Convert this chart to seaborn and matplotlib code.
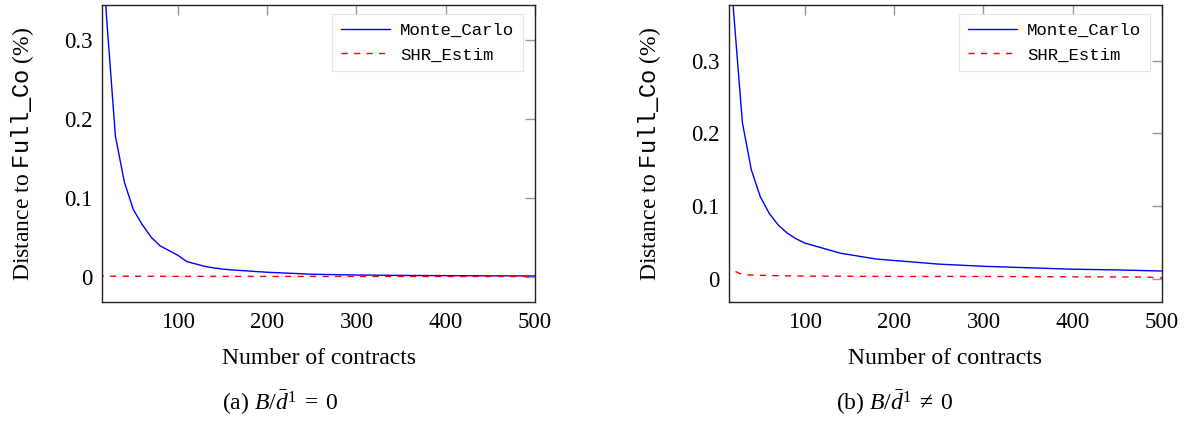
import numpy as np
import pandas as pd
import matplotlib
matplotlib.use("Agg")
import matplotlib.pyplot as plt
import seaborn as sns

sns.set_theme(style="white")
plt.rcParams["font.family"] = ["Liberation Serif", "DejaVu Serif"]
plt.rcParams["mathtext.fontset"] = "custom"
plt.rcParams["mathtext.rm"] = "Liberation Serif"
plt.rcParams["mathtext.it"] = "Liberation Serif:italic"
plt.rcParams["mathtext.tt"] = "Liberation Mono"
plt.rcParams["text.color"] = "black"
plt.rcParams["axes.labelcolor"] = "black"

# (a) B/d1 = 0
x_mc_a = [10, 20, 30, 40, 50, 60, 70, 80, 90, 100, 110, 120, 130, 140, 150, 160,
          180, 200, 250, 300, 350, 400, 450, 500]
mc_a = [0.55, 0.33, 0.178, 0.12, 0.085, 0.066, 0.05, 0.039, 0.033, 0.027, 0.019,
        0.016, 0.013, 0.011, 0.0095, 0.0085, 0.007, 0.0055, 0.003, 0.002, 0.0015,
        0.0012, 0.001, 0.0008]
x_shr_a = [10, 20, 50, 100, 200, 300, 400, 500]
shr_a = [0.0006, 0.0005, 0.0004, 0.0003, 0.0002, 0.0002, 0.0001, 0.0001]

# (b) B/d1 != 0
x_mc_b = [10, 20, 30, 40, 50, 60, 70, 80, 90, 100, 120, 140, 160, 180, 200, 250,
          300, 350, 400, 450, 500]
mc_b = [0.6, 0.37, 0.215, 0.15, 0.113, 0.09, 0.074, 0.063, 0.055, 0.049, 0.042,
        0.035, 0.031, 0.027, 0.025, 0.020, 0.017, 0.015, 0.013, 0.012, 0.0105]
x_shr_b = [10, 20, 30, 50, 100, 200, 300, 400, 480, 500]
shr_b = [0.018, 0.011, 0.0055, 0.0045, 0.0035, 0.003, 0.003, 0.0025, 0.0022, 0.001]

panels = [
    (x_mc_a, mc_a, x_shr_a, shr_a, 0.344, r"(a) $B/\bar{d}^1\;=\;0$"),
    (x_mc_b, mc_b, x_shr_b, shr_b, 0.377, r"(b) $B/\bar{d}^1\;\neq\;0$"),
]
lefts = [102 / 1186, 729 / 1186]
cap_x = [280 / 1186, 895 / 1186]

fig = plt.figure(figsize=(11.86, 4.21), dpi=100)

for (xm, ym, xs, ys, ytop, cap), left, cx in zip(panels, lefts, cap_x):
    ax = fig.add_axes([left, 0.283, 433 / 1186, 0.705])
    df_mc = pd.DataFrame({"x": xm, "y": ym})
    df_shr = pd.DataFrame({"x": xs, "y": ys})
    sns.lineplot(data=df_mc, x="x", y="y", ax=ax, color="#0000ff", lw=1.0,
                 label="Monte_Carlo")
    sns.lineplot(data=df_shr, x="x", y="y", ax=ax, color="#ff0000", lw=1.0,
                 dashes=False, label="SHR_Estim")
    ax.lines[1].set_linestyle((0, (4.5, 4.5)))

    ax.set_xlim(15, 500)
    ax.set_ylim(-0.032, ytop)
    ax.set_xticks([100, 200, 300, 400, 500])
    ax.set_yticks([0, 0.1, 0.2, 0.3])
    ax.set_yticklabels(["0", "0.1", "0.2", "0.3"])
    ax.tick_params(direction="in", length=7, width=1, color="#999999",
                   top=True, right=True, labelsize=16.5, labelcolor="black", pad=7)
    for s in ax.spines.values():
        s.set_color("#222222")
        s.set_linewidth(1.0)

    ax.set_xlabel("Number of contracts", fontsize=17, labelpad=11)
    ax.set_ylabel(r"Distance to $\mathtt{Full\_Co}$ (%)", fontsize=17, labelpad=20)
    fig.text(cx, 1 - 403 / 421, cap, ha="center", va="center", fontsize=17)

    leg = ax.legend(loc="upper right", bbox_to_anchor=(0.972, 0.97),
                    borderaxespad=0, frameon=True, fancybox=False,
                    prop={"family": "Liberation Mono", "size": 12.5},
                    handlelength=2.8, handletextpad=0.6, borderpad=0.5,
                    labelspacing=0.55)
    leg.get_frame().set_edgecolor("#dddddd")
    leg.get_frame().set_linewidth(0.8)
    leg.get_lines()[1].set_linestyle((0, (4.5, 4.5)))
    for t in leg.get_texts():
        t.set_color("black")

fig.savefig("out.png", dpi=100)
